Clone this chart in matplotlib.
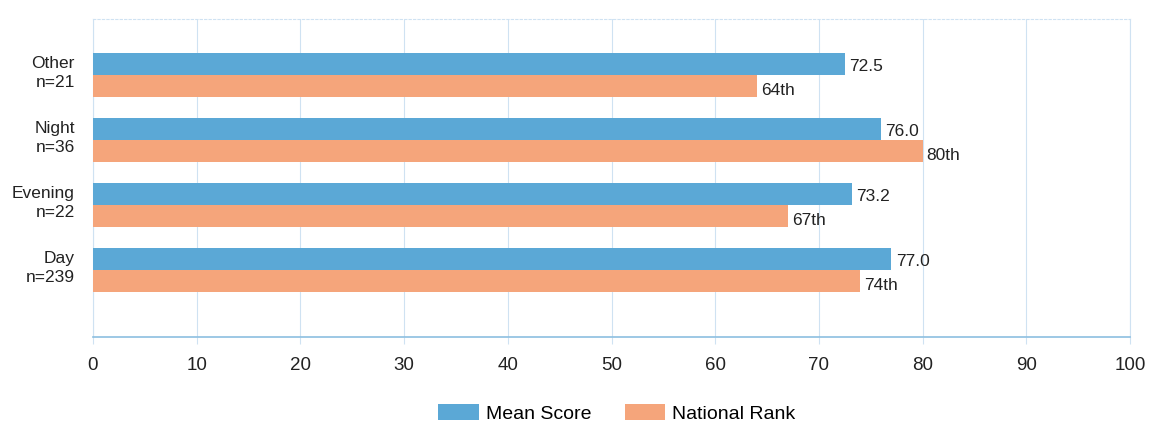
import matplotlib
matplotlib.use("Agg")
import matplotlib.pyplot as plt
import numpy as np

plt.rcParams['font.family'] = ['Liberation Sans', 'DejaVu Sans']

# Data
categories = ['Other\nn=21', 'Night\nn=36', 'Evening\nn=22', 'Day\nn=239']
mean_score = [72.5, 76.0, 73.2, 77.0]
national_rank = [64, 80, 67, 74]
rank_labels = ['64th', '80th', '67th', '74th']

blue = '#5ba8d6'
orange = '#f5a57b'
grid_col = '#cfe2f2'

fig = plt.figure(figsize=(11.57, 4.31), dpi=100)
ax = fig.add_axes([93 / 1157, 1 - 338 / 431, (1130 - 93) / 1157, (338 - 20) / 431])

y = np.arange(len(categories))
h = 0.34

ax.barh(y - h / 2, mean_score, height=h, color=blue, label='Mean Score', zorder=3)
ax.barh(y + h / 2, national_rank, height=h, color=orange, label='National Rank', zorder=3)

# Value labels at the end of each bar
for i in range(len(categories)):
    ax.text(mean_score[i] + 0.4, y[i] - h / 2 + 0.02, '{:.1f}'.format(mean_score[i]),
            va='center', ha='left', fontsize=12.5, color='#222222')
    ax.text(national_rank[i] + 0.4, y[i] + h / 2 + 0.06, rank_labels[i],
            va='center', ha='left', fontsize=12.5, color='#222222')

ax.set_xlim(0, 100)
ax.set_ylim(4.03, -0.86)
ax.set_xticks(range(0, 101, 10))
ax.set_yticks(y - 0.1)
ax.set_yticklabels(categories, fontsize=12.5, color='#222222', linespacing=1.3)
ax.tick_params(axis='y', length=0, pad=13)
ax.tick_params(axis='x', length=5, color=grid_col, labelsize=13.5, labelcolor='#222222', pad=9)

# Grid and frame
ax.grid(axis='x', color=grid_col, linewidth=0.8, zorder=0)
for side in ['top', 'left', 'right']:
    ax.spines[side].set_color(grid_col)
    ax.spines[side].set_linewidth(0.8)
ax.spines['top'].set_linestyle((0, (2, 2)))
ax.spines['bottom'].set_color('#8cbfe0')
ax.spines['bottom'].set_linewidth(1.2)

fig.legend(loc='center', bbox_to_anchor=(617 / 1157, 1 - 414 / 431), ncol=2,
           frameon=False, fontsize=14, handlelength=2.1, handleheight=0.9,
           columnspacing=1.7, handletextpad=0.35)

plt.savefig('out.png', dpi=100)
plt.close()
